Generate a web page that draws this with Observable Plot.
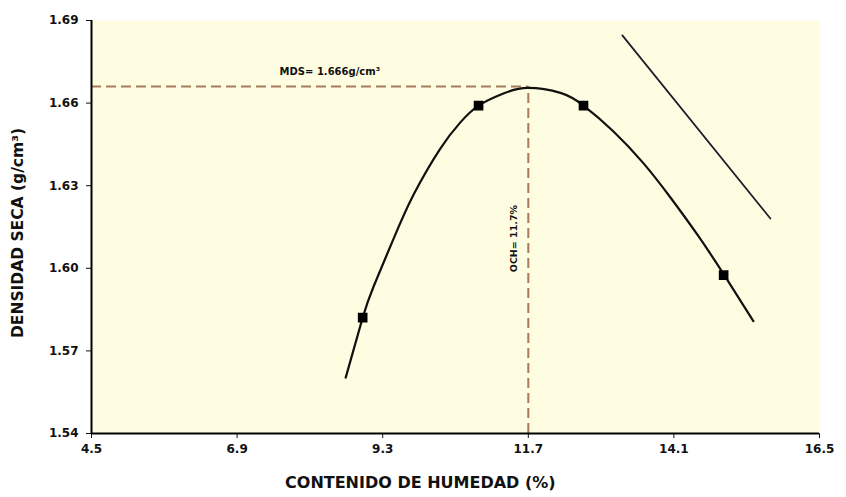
<!DOCTYPE html>
<html>
<head>
<meta charset="utf-8">
<script src="https://cdn.jsdelivr.net/npm/d3@7"></script>
<script src="https://cdn.jsdelivr.net/npm/@observablehq/plot@0.6"></script>
<style>
  html, body { margin: 0; padding: 0; background: #ffffff; }
  #chart svg { display: block; }
</style>
</head>
<body>
<div id="chart"></div>
<script>
// Compaction curve
const curveX = [8.69, 8.97, 9.15, 9.48, 9.81, 10.25, 10.58, 10.88, 11.29, 11.69, 12.23, 12.61, 13.10, 13.60, 14.04, 14.49, 14.92, 15.41];
const curveY = [1.5603, 1.5821, 1.5934, 1.6108, 1.6268, 1.6435, 1.6530, 1.6591, 1.6635, 1.6655, 1.6637, 1.6591, 1.6498, 1.6381, 1.6258, 1.6121, 1.5979, 1.5808];
// Measured points
const pointX = [8.97, 10.88, 12.61, 14.92];
const pointY = [1.5821, 1.6591, 1.6591, 1.5975];
// Zero-air-voids line
const zavX = [13.25, 15.69];
const zavY = [1.6846, 1.6181];
// Optimum
const optX = 11.7;
const mdsY = 1.666;
const mdsLabel = "MDS= 1.666g/cm³";
const ochLabel = "OCH= 11.7%";
const xTitle = "CONTENIDO DE HUMEDAD (%)";
const yTitle = "DENSIDAD SECA (g/cm³)";
// Ticks
const xTicks = [4.5, 6.9, 9.3, 11.7, 14.1, 16.5];
const yTicks = [1.54, 1.57, 1.60, 1.63, 1.66, 1.69];

const curve = curveX.map((x, i) => ({x, y: curveY[i]}));
const points = pointX.map((x, i) => ({x, y: pointY[i]}));
const zav = zavX.map((x, i) => ({x, y: zavY[i]}));

const dashColor = "#a87a5a";
const font = "DejaVu Sans, Liberation Sans, Arial, sans-serif";

const chart = Plot.plot({
  width: 846,
  height: 497,
  marginLeft: 91,
  marginRight: 27,
  marginTop: 20,
  marginBottom: 64,
  style: {fontFamily: font, fontSize: "12px", fontWeight: "bold", background: "#ffffff", color: "#111"},
  x: {domain: [4.5, 16.5], ticks: xTicks, tickFormat: d => d.toFixed(1), tickSize: 5, tickPadding: 6, label: null},
  y: {domain: [1.54, 1.69], ticks: yTicks, tickFormat: d => d.toFixed(2), tickSize: 5, tickPadding: 8, label: null},
  marks: [
    Plot.frame({fill: "#fefde1", stroke: null}),
    Plot.ruleY([mdsY], {x1: 4.5, x2: optX, stroke: dashColor, strokeWidth: 2, strokeDasharray: "10,5"}),
    Plot.ruleX([optX], {y1: 1.54, y2: mdsY, stroke: dashColor, strokeWidth: 2, strokeDasharray: "10,5"}),
    Plot.line(zav, {x: "x", y: "y", stroke: "#1e1e2a", strokeWidth: 1.8}),
    Plot.line(curve, {x: "x", y: "y", stroke: "#111", strokeWidth: 2.2, curve: "natural"}),
    Plot.dot(points, {x: "x", y: "y", symbol: "square", r: 4.6, fill: "#000", stroke: "#000"}),
    Plot.text([mdsLabel], {x: 7.6, y: 1.6715, text: d => d, textAnchor: "start", fontSize: 10, fontWeight: "bold"}),
    Plot.text([ochLabel], {x: 11.46, y: 1.6108, text: d => d, rotate: -90, fontSize: 9.5, fontWeight: "bold"}),
    Plot.text([xTitle], {x: 9.92, frameAnchor: "bottom", dy: 54, text: d => d, textAnchor: "middle", fontSize: 16, fontWeight: "bold"}),
    Plot.text([yTitle], {frameAnchor: "left", dx: -73, dy: 6, text: d => d, textAnchor: "middle", rotate: -90, fontSize: 15.5, fontWeight: "bold"}),
    Plot.ruleX([4.5], {stroke: "#000", strokeWidth: 2}),
    Plot.ruleY([1.54], {stroke: "#000", strokeWidth: 2})
  ]
});
document.getElementById("chart").appendChild(chart);
</script>
</body>
</html>
